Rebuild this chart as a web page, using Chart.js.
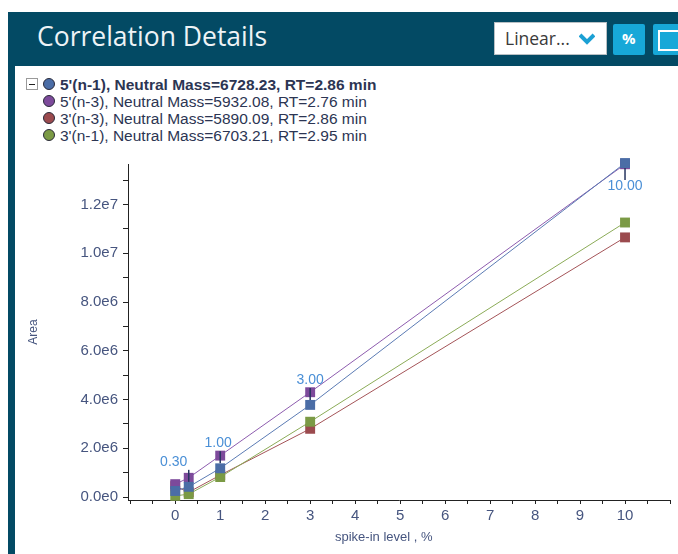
<!DOCTYPE html>
<html>
<head>
<meta charset="utf-8">
<script src="https://cdn.jsdelivr.net/npm/chart.js@4/dist/chart.umd.min.js"></script>
<style>
  body { margin: 0; width: 678px; height: 554px; background: #fff; overflow: hidden; position: relative; font-family: "Liberation Sans", Arial, sans-serif; }
  .frame { position: absolute; left: 8px; top: 12px; right: 0; bottom: 0; background: #034a64; }
  .panel { position: absolute; left: 15px; top: 66px; right: 0; bottom: 0; background: #fff; }
  .title { position: absolute; left: 37px; top: 18px; color: #eef3f6; font: 26.5px "Open Sans", sans-serif; }
  .dropdown { position: absolute; left: 494px; top: 22px; width: 111px; height: 31px; background: #fff; border: 1px solid #b9c0c4; }
  .dropdown span { position: absolute; left: 10px; top: 3px; font: 17.5px "Open Sans", sans-serif; color: #3a3a3a; }
  .dropdown svg { position: absolute; left: 84px; top: 10px; }
  .btn { position: absolute; top: 24px; height: 31px; background: #17a8d8; border-radius: 2px; }
  .btn span { position: absolute; left: 9px; top: 4px; color: #fff; font: bold 15px "Open Sans", sans-serif; }
  .legend { position: absolute; left: 26px; top: 76px; font-size: 15.5px; color: #2c3553; }
  .legend div { position: relative; height: 17px; line-height: 17px; padding-left: 34px; white-space: nowrap; }
  .legend i { position: absolute; left: 17px; top: 2px; width: 10px; height: 10px; border-radius: 50%; border: 1px solid #2a2a3a; }
  .minus { position: absolute; left: 0; top: 2px; width: 10px; height: 10px; border: 1px solid #9a9a9a; background: #fff; }
  .minus:after { content: ""; position: absolute; left: 2px; top: 5px; width: 6px; height: 1px; background: #222; }
  #wrap { position: absolute; left: 14px; top: 150px; width: 664px; height: 404px; }
  .xtitle { position: absolute; left: 335px; top: 529px; font-size: 13px; color: #46557f; white-space: nowrap; }
</style>
</head>
<body>
<div class="frame"></div>
<div class="panel"></div>
<div class="title">Correlation Details</div>
<div class="dropdown"><span>Linear...</span>
  <svg width="16" height="12" viewBox="0 0 16 12"><path d="M1 2 L8 9 L15 2" stroke="#1ba0d4" stroke-width="4" fill="none"/></svg>
</div>
<div class="btn" style="left:613px;width:32px"><span>%</span></div>
<div class="btn" style="left:653px;width:40px"><div style="position:absolute;left:5px;top:6px;width:24px;height:17px;border:2px solid #fff"></div></div>

<div class="legend" id="legend"></div>

<div id="wrap"><canvas id="myChart"></canvas></div>
<div class="xtitle">spike-in level , %</div>

<script>
'use strict';

// spike-in levels (%)
var spikeLevels = [0, 0.3, 1, 3, 10];

// areas
var area5n1 = [0.25e6, 0.42e6, 1.18e6, 3.78e6, 13.7e6];
var area5n3 = [0.53e6, 0.79e6, 1.7e6, 4.3e6, 13.65e6];
var area3n3 = [0.45e6, 0.2e6, 0.9e6, 2.8e6, 10.65e6];
var area3n1 = [0.05e6, 0.12e6, 0.82e6, 3.09e6, 11.26e6];

var seriesNames = [
  "5'(n-1), Neutral Mass=6728.23, RT=2.86 min",
  "5'(n-3), Neutral Mass=5932.08, RT=2.76 min",
  "3'(n-3), Neutral Mass=5890.09, RT=2.86 min",
  "3'(n-1), Neutral Mass=6703.21, RT=2.95 min"
];

var xTicks = [-1, -0.5, 0, 0.5, 1, 1.5, 2, 2.5, 3, 3.5, 4, 4.5, 5, 5.5, 6, 6.5, 7, 7.5, 8, 8.5, 9, 9.5, 10, 10.5, 11];
var yTicks = [0, 1e6, 2e6, 3e6, 4e6, 5e6, 6e6, 7e6, 8e6, 9e6, 10e6, 11e6, 12e6, 13e6];

var markerColors = ['#4b6da6', '#7d4a9b', '#9b4a4e', '#7b9a45'];
var lineColors = ['#5b7bb4', '#8d5cae', '#a45458', '#8bab57'];

function points(vals){
  var out = [];
  for (var i = 0; i < spikeLevels.length; i++){
    out.push({x: spikeLevels[i], y: vals[i]});
  }
  return out;
}

// legend (html)
var legend = document.getElementById('legend');
for (var i = 0; i < seriesNames.length; i++){
  var row = document.createElement('div');
  if (i === 0) {
    row.style.fontWeight = 'bold';
    row.innerHTML = '<span class="minus"></span>';
  }
  row.innerHTML += '<i style="background:' + markerColors[i] + '"></i>' + seriesNames[i];
  legend.appendChild(row);
}

// labels with leader line on the selected series
var levelLabels = {
  id: 'levelLabels',
  afterDatasetsDraw: function(chart){
    var ctx = chart.ctx;
    var meta = chart.getDatasetMeta(0);
    ctx.save();
    ctx.font = '14px "Liberation Sans", Arial, sans-serif';
    ctx.textAlign = 'center';
    ctx.textBaseline = 'middle';
    for (var i = 0; i < meta.data.length; i++){
      var x = spikeLevels[i];
      if (x === 0) continue;
      var pt = meta.data[i];
      var below = pt.y < chart.chartArea.top + 30;
      var dir = below ? 1 : -1;
      var dx = (x < 0.5) ? -15 : (x === 1 ? -2 : 0);
      ctx.strokeStyle = '#26355f';
      ctx.lineWidth = 1.5;
      ctx.beginPath();
      ctx.moveTo(pt.x, pt.y + dir * 5);
      ctx.lineTo(pt.x, pt.y + dir * 17);
      ctx.stroke();
      ctx.fillStyle = '#4a8fd6';
      ctx.fillText(x.toFixed(2), pt.x + dx, pt.y + (below ? 23 : -25));
    }
    ctx.restore();
  }
};

var tickColor = '#46557f';
var ctx = document.getElementById('myChart').getContext('2d');

var myChart = new Chart(ctx, {
  type: 'line',
  data: {
    datasets: [area5n1, area5n3, area3n3, area3n1].map(function(vals, i){
      return {
        label: seriesNames[i],
        data: points(vals),
        borderColor: lineColors[i],
        backgroundColor: markerColors[i],
        pointBackgroundColor: markerColors[i],
        pointBorderColor: markerColors[i],
        pointBorderWidth: 0,
        pointStyle: 'rect',
        pointRadius: 7,
        borderWidth: 1,
        tension: 0,
        clip: false,
        order: [0, 1, 3, 2][i]
      };
    })
  },
  options: {
    responsive: true,
    maintainAspectRatio: false,
    animation: false,
    layout: { padding: { top: 12, right: 8 } },
    plugins: { legend: { display: false }, tooltip: { enabled: false } },
    scales: {
      x: {
        type: 'linear',
        min: -1.05,
        max: 11,
        afterBuildTicks: function(scale){ scale.ticks = xTicks.map(function(v){ return {value: v}; }); },
        afterFit: function(scale){ scale.height = 54; },
        grid: { drawOnChartArea: false, tickLength: 4, tickColor: '#222' },
        border: { color: '#222', width: 1 },
        ticks: {
          autoSkip: false,
          maxRotation: 0,
          padding: 3,
          color: tickColor,
          font: { family: '"Liberation Sans", Arial, sans-serif', size: 15 },
          callback: function(v){ return (Number.isInteger(v) && v >= 0 && v <= 10) ? String(v) : ''; }
        },
        title: { display: false }
      },
      y: {
        min: -0.12e6,
        max: 13.66e6,
        afterBuildTicks: function(scale){ scale.ticks = yTicks.map(function(v){ return {value: v}; }); },
        afterFit: function(scale){ scale.width = 114; },
        grid: { drawOnChartArea: false, tickLength: 5, tickColor: '#222' },
        border: { color: '#222', width: 1 },
        ticks: {
          autoSkip: false,
          padding: 5,
          color: tickColor,
          font: { family: '"Liberation Sans", Arial, sans-serif', size: 15 },
          callback: function(v){
            if (v % 2e6 !== 0) return '';
            return v.toExponential(1).replace('e+', 'e');
          }
        },
        title: {
          display: true,
          text: 'Area',
          color: tickColor,
          font: { family: '"Liberation Sans", Arial, sans-serif', size: 12 },
          padding: { top: 12, bottom: 0 }
        }
      }
    }
  },
  plugins: [levelLabels]
});
</script>
</body>
</html>
